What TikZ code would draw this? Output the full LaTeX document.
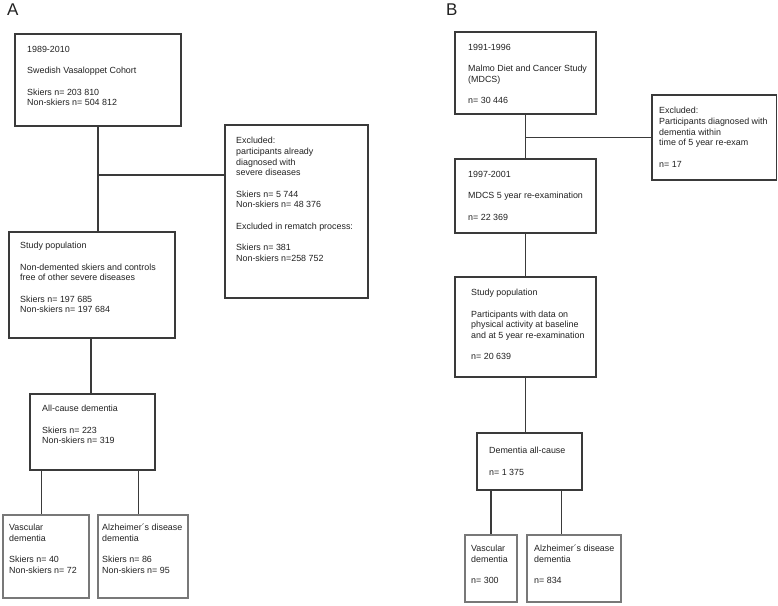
\documentclass[tikz,border=0pt]{standalone}
\usepackage{fontspec}
\setmainfont{Liberation Sans}
\usetikzlibrary{fit}
\definecolor{boxc}{HTML}{3A3A3A}
\definecolor{leafc}{HTML}{787878}
\definecolor{connc}{HTML}{3A3A3A}
\definecolor{txtc}{HTML}{222222}
\begin{document}
\begin{tikzpicture}[x=1pt,y=-1pt,
  box/.style={draw=boxc, line width=1.1pt, inner sep=0pt},
  leaf/.style={draw=leafc, line width=2.4pt, inner sep=0pt},
  txt/.style={anchor=north west, inner sep=0pt, align=left, text=txtc, font=\fontsize{8.9}{10.7}\selectfont, execute at begin node=\strut},
  conn/.style={draw=connc, line width=1.1pt},
  panel/.style={anchor=base west, inner sep=0pt, text=txtc, font=\fontsize{17}{17}\selectfont}]
\fill[white] (0,0) rectangle (778,605);
\useasboundingbox (0,0) rectangle (778,605);

% ---------- Panel A ----------
\node[panel] (labA) at (7,15) {A};
\node[box, fit={(15,34) (181,126)}] (A1) {};
\node[txt] (A1t) at (27,46) {1989-2010\\[10.7pt]Swedish Vasaloppet Cohort\\[10.7pt]Skiers n= 203 810\\Non-skiers n= 504 812};

\node[box, fit={(225,125) (368,298)}] (Aex) {};
\node[txt] (Aext) at (236,137) {Excluded:\\participants already\\diagnosed with\\severe diseases\\[10.7pt]Skiers n= 5 744\\Non-skiers n= 48 376\\[10.7pt]Excluded in rematch process:\\[10.7pt]Skiers n= 381\\Non-skiers n=258 752};

\node[box, fit={(9,232) (175,338)}] (A2) {};
\node[txt] (A2t) at (20,242) {Study population\\[10.7pt]Non-demented skiers and controls\\free of other severe diseases\\[10.7pt]Skiers n= 197 685\\Non-skiers n= 197 684};

\node[box, fit={(30,394) (155,470)}] (A3) {};
\node[txt] (A3t) at (42,405) {All-cause dementia\\[10.7pt]Skiers n= 223\\Non-skiers n= 319};

\node[leaf, fit={(3,515) (89,598)}] (A4) {};
\node[txt] (A4t) at (9,524) {Vascular\\dementia\\[10.7pt]Skiers n= 40\\Non-skiers n= 72};

\node[leaf, fit={(98,515) (188,598)}] (A5) {};
\node[txt] (A5t) at (102,524) {Alzheimer´s disease\\dementia\\[10.7pt]Skiers n= 86\\Non-skiers n= 95};

\coordinate (Aj) at (98,175);
\draw[conn] (A1.south) -- (A1.south |- A2.north);
\draw[conn] (Aj) -- (Aj -| Aex.west);
\draw[conn] ([xshift=-1pt]A2.south) -- ([xshift=-1pt]A2.south |- A3.north);
\draw[conn] ([xshift=12pt]A3.south west) -- ([xshift=12pt]A3.south west |- A4.north);
\draw[conn] ([xshift=-17pt]A3.south east) -- ([xshift=-17pt]A3.south east |- A5.north);

% ---------- Panel B ----------
\node[panel] (labB) at (446,15) {B};
\node[box, fit={(455,32) (596,114)}] (B1) {};
\node[txt] (B1t) at (468,44) {1991-1996\\[10.7pt]Malmo Diet and Cancer Study\\(MDCS)\\[10.7pt]n= 30 446};

\node[box, fit={(652,95) (776.5,180)}] (Bex) {};
\node[txt] (Bext) at (659,107) {Excluded:\\Participants diagnosed with\\dementia within\\time of 5 year re-exam\\[10.7pt]n= 17};

\node[box, fit={(455,159) (596,233)}] (B2) {};
\node[txt] (B2t) at (468,171) {1997-2001\\[10.7pt]MDCS 5 year re-examination\\[10.7pt]n= 22 369};

\node[box, fit={(455,277) (596,377)}] (B3) {};
\node[txt] (B3t) at (471,289) {Study population\\[10.7pt]Participants with data on\\physical activity at baseline\\and at 5 year re-examination\\[10.7pt]n= 20 639};

\node[box, fit={(477,433) (582,490)}] (B4) {};
\node[txt] (B4t) at (489,447) {Dementia all-cause\\[10.7pt]n= 1 375};

\node[leaf, fit={(465,535) (517,602)}] (B5) {};
\node[txt] (B5t) at (471,545) {Vascular\\dementia\\[10.7pt]n= 300};

\node[leaf, fit={(527,535) (621,602)}] (B6) {};
\node[txt] (B6t) at (534,545) {Alzheimer´s disease\\dementia\\[10.7pt]n= 834};

\draw[conn] (B1.south) -- (B1.south |- B2.north);
\draw[conn] (B1.south |- Bex.west) -- (Bex.west);
\draw[conn] (B2.south) -- (B2.south |- B3.north);
\draw[conn] (B3.south) -- (B3.south |- B4.north);
\draw[conn] (B5.north) -- (B5.north |- B4.south);
\draw[conn] ([xshift=-21pt]B4.south east) -- ([xshift=-21pt]B4.south east |- B6.north);
\end{tikzpicture}
\end{document}
